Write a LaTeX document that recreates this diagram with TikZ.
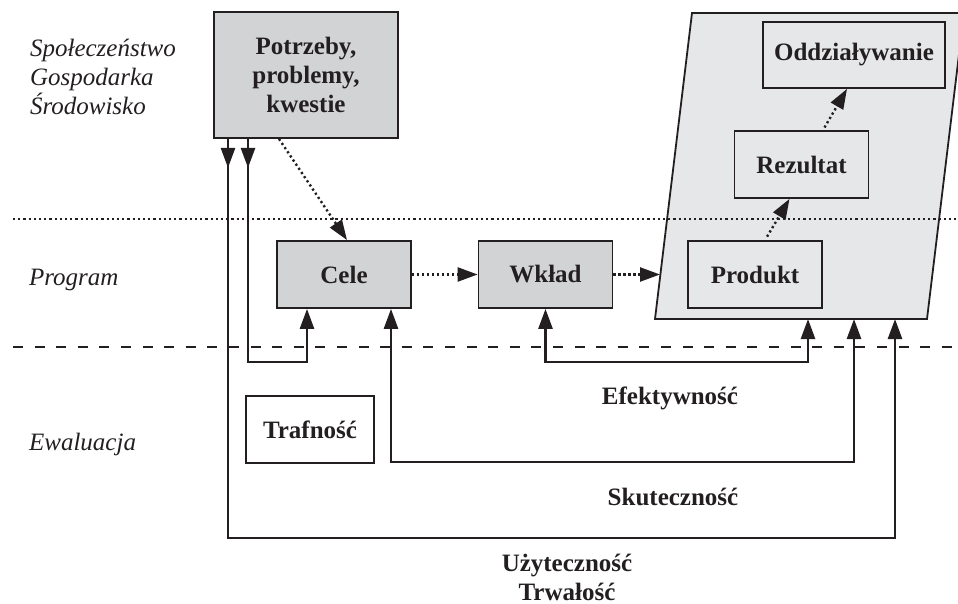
\documentclass[tikz,border=0pt]{standalone}
\usepackage{fontspec}
\setmainfont{Liberation Serif}
\usetikzlibrary{arrows.meta}
\definecolor{ink}{HTML}{231F20}
\definecolor{boxgray}{HTML}{D2D3D5}
\definecolor{panelgray}{HTML}{E6E7E8}

\begin{document}
\begin{tikzpicture}[x=0.5pt,y=-0.5pt,
  every node/.style={text=ink, font=\fontsize{12}{14.5}\selectfont},
  box/.style={draw=ink, line width=0.9pt, inner sep=0pt,
    minimum width=67pt, minimum height=33.5pt,
    font=\fontsize{12.5}{14.5}\selectfont\bfseries},
  darkbox/.style={box, fill=boxgray},
  lightbox/.style={box, fill=panelgray},
  plainbox/.style={box, fill=white, line width=0.6pt},
  region/.style={font=\fontsize{12.5}{14.5}\selectfont\itshape, anchor=west, align=left},
  crit/.style={font=\fontsize{12.5}{14.5}\selectfont\bfseries, align=center},
  conn/.style={draw=ink, line width=1.3pt},
  tip/.style={-{Triangle[length=10pt,width=7pt]}},
  tips/.style={{Triangle[length=10pt,width=7pt]}-{Triangle[length=10pt,width=7pt]}},
  dotconn/.style={draw=ink, line width=1.2pt, dash pattern=on 1.1pt off 1.4pt,
    -{Triangle[length=10pt,width=7pt]}}
]
\useasboundingbox (0,0) rectangle (958,604);

% panel holding the outcomes
\filldraw[fill=panelgray, draw=ink, line width=0.9pt]
  (692,13) coordinate (pTL) -- (964,13) coordinate (pTR) --
  (927,319) coordinate (pBR) -- (655,319) coordinate (pBL) -- cycle;
\coordinate (pin) at (660,274.5);

% level separators
\draw[ink, line width=1.1pt, dash pattern=on 1.1pt off 1.5pt] (13,219) -- (958,219);
\draw[ink, line width=1.3pt, dash pattern=on 5pt off 5.8pt] (13,347) -- (958,347);

% level names
\node[region] (lvsoc) at (23,77) {Społeczeństwo\\Gospodarka\\Środowisko};
\node[region] (lvprog) at (22,280) {Program};
\node[region] (lveval) at (22,444) {Ewaluacja};

% boxes
\node[darkbox, minimum width=92pt, minimum height=63pt, align=center]
  (pot) at (306,75) {Potrzeby,\\problemy,\\kwestie};
\node[darkbox] (cele) at (344,274.5) {Cele};
\node[darkbox] (wklad) at (545.5,274.5) {Wkład};
\node[lightbox] (prod) at (755,274.5) {Produkt};
\node[lightbox] (rez) at (801.5,164.5) {Rezultat};
\node[lightbox, minimum width=91pt, minimum height=33pt] (odd) at (854,55) {Oddziaływanie};
\node[plainbox, minimum width=64pt] (traf) at (310,429.5) {Trafność};

% criteria
\node[crit] (efekt) at (670,398) {Efektywność};
\node[crit] (skut) at (673,497) {Skuteczność};
\node[crit] (uzyt) at (567,577) {Użyteczność\\Trwałość};

% programme logic (dotted)
\draw[dotconn] ([xshift=-13.5pt]pot.south) -- ([xshift=1.5pt]cele.north);
\draw[dotconn] (cele.east) -- (wklad.west);
\draw[dotconn] (wklad.east) -- (pin);
\draw[dotconn, shorten <=2pt] ([xshift=5pt]prod.north) -- ([xshift=-6pt]rez.south);
\draw[dotconn, shorten <=1.5pt] ([xshift=10.75pt]rez.north) -- ([xshift=-3.5pt]odd.south);

% evaluation loops
\coordinate (t1) at ([xshift=-29pt]pot.south);
\coordinate (t2) at ([xshift=-39pt]pot.south);
\coordinate (c1) at ([xshift=-18.5pt]cele.south);
\coordinate (c2) at ([xshift=23.5pt]cele.south);
\coordinate (k1) at (307,362);
\coordinate (k2) at (808,362);
\coordinate (k3) at (854,462);
\coordinate (k4) at (895,538);

% relevance
\draw[conn, tip] (t1) -- ++(0,29);
\draw[conn, tip] (t1) |- (k1) -- (c1);
% efficiency
\draw[conn, tips] (wklad.south) |- (k2) -- (k2 |- pBL);
% effectiveness
\draw[conn, tips] (c2) |- (k3) -- (k3 |- pBL);
% utility and sustainability
\draw[conn, tip] (t2) -- ++(0,29);
\draw[conn, tip] (t2) |- (k4) -- (k4 |- pBL);
\end{tikzpicture}
\end{document}
